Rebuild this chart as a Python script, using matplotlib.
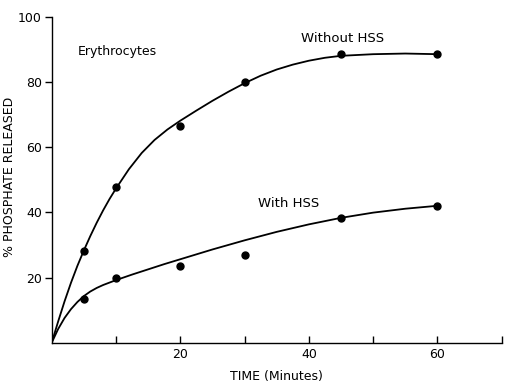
import matplotlib
matplotlib.use("Agg")
import matplotlib.pyplot as plt

# Measured points
t_pts = [5, 10, 20, 30, 45, 60]
without_pts = [28, 47.7, 66.4, 80, 88.5, 88.5]
with_pts = [13.4, 19.9, 23.4, 27, 38.4, 42]

# Hand-drawn fitted curves
t_curve_without = [0, 1, 2, 3, 4, 5, 6, 7, 8, 9, 10, 12, 14, 16, 18, 20, 22.5, 25,
                   27.5, 30, 32.5, 35, 37.5, 40, 42.5, 45, 50, 55, 60]
curve_without = [0, 6.5, 12.7, 18.4, 23.6, 28.3, 32.7, 36.8, 40.6, 44.1, 47.3, 53.2, 58.2,
                 62.2, 65.4, 68.1, 71.2, 74.2, 77.0, 79.6, 81.9, 83.8, 85.3, 86.5, 87.4, 88,
                 88.5, 88.7, 88.5]
t_curve_with = [0, 1, 2, 3, 4, 5, 6, 7, 8, 10, 12.5, 15, 17.5, 20, 25, 30, 35, 40, 45,
                50, 55, 60]
curve_with = [0, 4.2, 7.6, 10.3, 12.5, 14.3, 15.7, 16.8, 17.7, 19.2, 20.9, 22.5, 24.1,
              25.6, 28.6, 31.4, 34, 36.3, 38.3, 39.9, 41.1, 42]

x_ticks = [10, 20, 30, 40, 50, 60, 70]
x_labels = ["", "20", "", "40", "", "60", ""]
y_ticks = [20, 40, 60, 80, 100]

plt.rcParams['font.family'] = ['DejaVu Sans']

fig = plt.figure(figsize=(5.05, 3.83), dpi=100)
ax = fig.add_axes([0.1024, 0.1052, 0.8911, 0.8512])

ax.plot(t_curve_without, curve_without, color='black', lw=1.3, solid_joinstyle='round')
ax.plot(t_curve_with, curve_with, color='black', lw=1.3, solid_joinstyle='round')
ax.plot(t_pts, without_pts, 'o', color='black', ms=5)
ax.plot(t_pts, with_pts, 'o', color='black', ms=5)

ax.set_xlim(0, 70)
ax.set_ylim(0, 100)
ax.spines['top'].set_visible(False)
ax.spines['right'].set_visible(False)
ax.spines['left'].set_linewidth(1.0)
ax.spines['bottom'].set_linewidth(1.0)

ax.set_xticks(x_ticks)
ax.set_xticklabels(x_labels)
ax.tick_params(axis='x', direction='in', length=5, width=1, labelsize=9, pad=4)
ax.set_yticks(y_ticks)
ax.tick_params(axis='y', direction='out', length=5, width=1, labelsize=9, pad=2)

ax.set_xlabel("TIME (Minutes)", fontsize=9, labelpad=6)
ax.set_ylabel("% PHOSPHATE RELEASED", fontsize=9)
ax.yaxis.set_label_coords(-0.08, 0.51)

ax.text(4.0, 89.4, "Erythrocytes", fontsize=9, va='center', ha='left')
ax.text(38.7, 93.4, "Without HSS", fontsize=9.5, va='center', ha='left')
ax.text(32.1, 42.7, "With HSS", fontsize=9.5, va='center', ha='left')

fig.savefig("out.png", dpi=100)
